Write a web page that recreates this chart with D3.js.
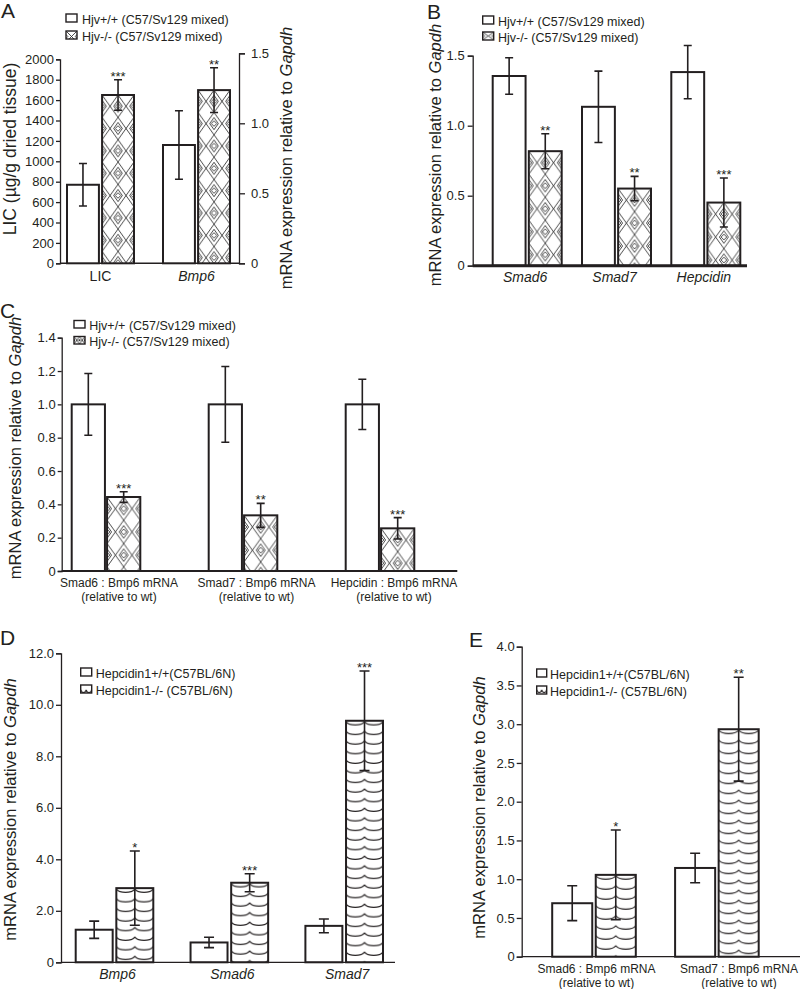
<!DOCTYPE html>
<html><head><meta charset="utf-8">
<script src="https://cdn.jsdelivr.net/npm/d3@7"></script>
<style>
body{margin:0;background:#fff}
svg{display:block}
text{font-family:"Liberation Sans",Arial,Helvetica,sans-serif;fill:#231f20}
</style>
</head><body>
<svg id="c" width="800" height="989"></svg>
<script>
// ================= DATA =================
const seriesNames = ["wt", "ko"];
const hjvLegend = ["Hjv+/+ (C57/Sv129 mixed)", "Hjv-/- (C57/Sv129 mixed)"];
const hepLegend = ["Hepcidin1+/+(C57BL/6N)", "Hepcidin1-/- (C57BL/6N)"];
const yTitleMain = "mRNA expression relative to ";
const yTitleItalic = "Gapdh";

// Panel A (LIC on left axis, Bmp6 on right axis)
const aCategories = ["LIC", "Bmp6"];
const aItalic = [false, true];
const aAxisSide = ["left", "right"];
const aWT = [770, 0.845];
const aWTErr = [208, 0.245];
const aKO = [1650, 1.237];
const aKOErr = [150, 0.16];
const aStars = ["***", "**"];
const aLeftTicks = [0, 200, 400, 600, 800, 1000, 1200, 1400, 1600, 1800, 2000];
const aRightTicks = [0, 0.5, 1.0, 1.5];
const aLeftTitle = "LIC (µg/g dried tissue)";

// Panel B
const bCategories = ["Smad6", "Smad7", "Hepcidin"];
const bWT = [1.355, 1.135, 1.383];
const bWTErr = [0.13, 0.255, 0.19];
const bKO = [0.818, 0.551, 0.451];
const bKOErr = [0.125, 0.087, 0.175];
const bStars = ["**", "**", "***"];
const bTicks = [0, 0.5, 1.0, 1.5];

// Panel C
const cCategories = ["Smad6 : Bmp6 mRNA", "Smad7 : Bmp6 mRNA", "Hepcidin : Bmp6 mRNA"];
const cSubLabel = "(relative to wt)";
const cWT = [1.0, 1.0, 1.0];
const cWTErr = [0.185, 0.227, 0.151];
const cKO = [0.444, 0.334, 0.256];
const cKOErr = [0.032, 0.072, 0.064];
const cStars = ["***", "**", "***"];
const cTicks = [0, 0.2, 0.4, 0.6, 0.8, 1.0, 1.2, 1.4];

// Panel D
const dCategories = ["Bmp6", "Smad6", "Smad7"];
const dWT = [1.265, 0.77, 1.415];
const dWTErr = [0.335, 0.2, 0.265];
const dKO = [2.88, 3.09, 9.38];
const dKOErr = [1.44, 0.35, 1.935];
const dStars = ["*", "***", "***"];
const dTicks = [0, 2, 4, 6, 8, 10, 12];

// Panel E
const eCategories = ["Smad6 : Bmp6 mRNA", "Smad7 : Bmp6 mRNA"];
const eWT = [0.69, 1.145];
const eWTErr = [0.225, 0.19];
const eKO = [1.056, 2.935];
const eKOErr = [0.578, 0.67];
const eStars = ["*", "**"];
const eTicks = [0, 0.5, 1.0, 1.5, 2.0, 2.5, 3.0, 3.5, 4.0];

// ================= DRAWING =================
const INK = "#231f20";
const svg = d3.select("#c");
const defs = svg.append("defs");
let pid = 0;

function diamond(cx, cy, rx, ry) {
  ry = ry === undefined ? rx : ry;
  return `M${cx - rx},${cy}L${cx},${cy - ry}L${cx + rx},${cy}L${cx},${cy + ry}Z`;
}
function hjvPattern(x0, y0, w, ratio, simple) {
  const id = "pat" + (pid++);
  const h = w * (ratio || 1.4);
  const p = defs.append("pattern").attr("id", id).attr("patternUnits", "userSpaceOnUse")
    .attr("x", x0).attr("y", y0).attr("width", w).attr("height", h);
  p.append("rect").attr("width", w).attr("height", h).attr("fill", "#fff");
  const r = w * 0.17;
  let d = `M0,0L${w},${h}M${w},0L0,${h}` + diamond(0, h / 2, r) + diamond(w, h / 2, r);
  if (!simple) d += diamond(0, h / 2, w * 0.27, h * 0.27) + diamond(w, h / 2, w * 0.27, h * 0.27);
  p.append("path").attr("d", d).attr("fill", "none").attr("stroke", "#2a2a2a").attr("stroke-width", 0.85);
  return `url(#${id})`;
}
function wavePattern(x0, y0, w, h) {
  const id = "pat" + (pid++);
  const p = defs.append("pattern").attr("id", id).attr("patternUnits", "userSpaceOnUse")
    .attr("x", x0).attr("y", y0).attr("width", w).attr("height", h);
  p.append("rect").attr("width", w).attr("height", h).attr("fill", "#fff");
  p.append("path").attr("d", `M0,0.8C${w * 0.15},${h * 0.55} ${w * 0.85},${h * 0.55} ${w},0.8`)
    .attr("fill", "none").attr("stroke", INK).attr("stroke-width", 1.2);
  return `url(#${id})`;
}

function yAxis(scale, ticks, fmt, x, side, tickSize, pad) {
  const ax = (side === "left" ? d3.axisLeft(scale) : d3.axisRight(scale))
    .tickValues(ticks).tickFormat(fmt).tickSizeOuter(0).tickSize(tickSize).tickPadding(pad);
  const a = svg.append("g").attr("transform", `translate(${x},0)`).call(ax)
    .attr("font-family", null).attr("font-size", 13);
  a.select(".domain").attr("stroke", INK).attr("stroke-width", 1.3);
  a.selectAll(".tick line").attr("stroke", INK).attr("stroke-width", 1.3);
  a.selectAll(".tick text").attr("fill", INK);
  return a;
}
const fmt1 = d => d === 0 ? "0" : d3.format(".1f")(d);

function yTitle(xc, yc, size) {
  const t = svg.append("text").attr("transform", `translate(${xc},${yc}) rotate(-90)`)
    .attr("text-anchor", "middle").attr("dy", "0.35em").style("font-size", size + "px");
  t.append("tspan").text(yTitleMain);
  t.append("tspan").style("font-style", "italic").text(yTitleItalic);
}
function panelLabel(t, x, y) {
  svg.append("text").attr("x", x).attr("y", y).style("font-size", "21px").text(t);
}
function baseline(x0, x1, y, w) {
  svg.append("line").attr("x1", x0).attr("x2", x1).attr("y1", y).attr("y2", y)
    .attr("stroke", INK).attr("stroke-width", w);
}
function legend(x, tops, w, h, labels, koFill, textX, fs) {
  labels.forEach((lab, i) => {
    svg.append("rect").attr("x", x).attr("y", tops[i]).attr("width", w).attr("height", h)
      .attr("fill", i === 0 ? "#fff" : koFill).attr("stroke", INK).attr("stroke-width", 1.4);
    svg.append("text").attr("x", textX).attr("y", tops[i] + 9.5).style("font-size", fs + "px").text(lab);
  });
}
function twoLineLabel(x, y, l1, l2, fs, gap) {
  const t = svg.append("text").attr("text-anchor", "middle").style("font-size", fs + "px");
  t.append("tspan").attr("x", x).attr("y", y).text(l1);
  t.append("tspan").attr("x", x).attr("dy", gap).text(l2);
}

// generic grouped bars
function bars(o) {
  o.cats.forEach((c, i) => {
    const y = o.yOf(i);
    seriesNames.forEach((s, j) => {
      const v = o.vals[j][i], e = o.errs[j][i];
      const bx = o.x(c) + o.x1(s), bw = o.x1.bandwidth();
      let fill = "#fff";
      if (j === 1) fill = o.kind === "hjv" ? hjvPattern(bx, y(v), bw / 2) : wavePattern(bx, y(v), bw / 2, o.waveH);
      svg.append("rect").attr("x", bx).attr("y", y(v)).attr("width", bw).attr("height", y(0) - y(v))
        .attr("fill", fill).attr("stroke", INK).attr("stroke-width", o.stroke);
      const cx = bx + bw / 2, ch = o.cap;
      svg.append("path")
        .attr("d", `M${cx},${y(v - e)}V${y(v + e)}M${cx - ch},${y(v + e)}h${2 * ch}M${cx - ch},${y(v - e)}h${2 * ch}`)
        .attr("stroke", INK).attr("stroke-width", 1.6).attr("fill", "none");
      if (j === 1) {
        svg.append("text").attr("x", cx).attr("y", y(v + e) + 1).attr("text-anchor", "middle")
          .style("font-size", "13px").text(o.stars[i]);
      }
    });
  });
}

// ---------- Panel A ----------
{
  const yL = d3.scaleLinear().domain([0, 2000]).range([263.3, 59.3]);
  const yR = d3.scaleLinear().domain([0, 1.5]).range([263.3, 53.3]);
  const x = d3.scalePoint().domain(aCategories).range([100.5, 196.5]);
  const x1 = d3.scaleBand().domain(seriesNames).range([-33.5, 33.5]).paddingInner(0.09);
  yAxis(yL, aLeftTicks, d3.format("d"), 60, "left", 4, 2);
  yAxis(yR, aRightTicks, fmt1, 239, "right", 6, 6);
  baseline(60, 239, yL(0), 1.6);
  bars({cats: aCategories, vals: [aWT, aKO], errs: [aWTErr, aKOErr], stars: aStars,
    yOf: i => aAxisSide[i] === "left" ? yL : yR, x, x1, kind: "hjv", stroke: 2, cap: 4});
  aCategories.forEach((c, i) => {
    svg.append("text").attr("x", x(c)).attr("y", 281).attr("text-anchor", "middle")
      .style("font-size", "14px").style("font-style", aItalic[i] ? "italic" : "normal").text(c);
  });
  svg.append("text").attr("transform", "translate(10,149) rotate(-90)").attr("text-anchor", "middle")
    .attr("dy", "0.35em").style("font-size", "17.5px").text(aLeftTitle);
  yTitle(286, 158, 16.5);
  legend(66, [14, 31], 11, 8, hjvLegend, hjvPattern(66, 31, 11, 1.0, true), 82, 12.5);
  panelLabel("A", 1, 18);
}

// ---------- Panel B ----------
{
  const y = d3.scaleLinear().domain([0, 1.5]).range([265.7, 55.7]);
  const x = d3.scalePoint().domain(bCategories).range([527.2, 705.8]);
  const x1 = d3.scaleBand().domain(seriesNames).range([-34.5, 34.5]).paddingInner(0.09);
  yAxis(y, bTicks, fmt1, 472.7, "left", 5, 3);
  bars({cats: bCategories, vals: [bWT, bKO], errs: [bWTErr, bKOErr], stars: bStars,
    yOf: () => y, x, x1, kind: "hjv", stroke: 2, cap: 4});
  baseline(472.7, 747, y(0), 3);
  bCategories.forEach(c => {
    svg.append("text").attr("x", x(c) - 2).attr("y", 281.5).attr("text-anchor", "middle")
      .style("font-size", "14px").style("font-style", "italic").text(c);
  });
  yTitle(435, 155, 16.5);
  legend(482.7, [16, 32], 11, 8, hjvLegend, hjvPattern(482.7, 32, 11, 0.73, true), 498, 12.5);
  panelLabel("B", 427, 19);
}

// ---------- Panel C ----------
{
  const y = d3.scaleLinear().domain([0, 1.4]).range([571, 337.7]);
  const x = d3.scalePoint().domain(cCategories).range([106, 380]);
  const x1 = d3.scaleBand().domain(seriesNames).range([-34.3, 34.3]).paddingInner(0.06);
  yAxis(y, cTicks, fmt1, 61.7, "left", 4, 2);
  bars({cats: cCategories, vals: [cWT, cKO], errs: [cWTErr, cKOErr], stars: cStars,
    yOf: () => y, x, x1, kind: "hjv", stroke: 2, cap: 4});
  baseline(61.7, 457.3, y(0), 2);
  const xl = d3.scalePoint().domain(cCategories).range([119, 394]);
  cCategories.forEach(c => twoLineLabel(xl(c), 587, c, cSubLabel, 12, 13.6));
  yTitle(15, 448, 16.5);
  legend(74, [320.5, 336.5], 11, 7.5, hjvLegend, hjvPattern(74, 336.5, 5.5, 1.36, true), 89.3, 12.5);
  panelLabel("C", 0, 318);
}

// ---------- Panel D ----------
{
  const y = d3.scaleLinear().domain([0, 12]).range([962.3, 653.3]);
  const x = d3.scalePoint().domain(dCategories).range([114.5, 344.2]);
  const x1 = d3.scaleBand().domain(seriesNames).range([-38.8, 38.8]).paddingInner(0.09);
  yAxis(y, dTicks, fmt1, 61, "left", 5, 2);
  bars({cats: dCategories, vals: [dWT, dKO], errs: [dWTErr, dKOErr], stars: dStars,
    yOf: () => y, x, x1, kind: "wave", waveH: 9.6, stroke: 2, cap: 5});
  baseline(61, 395, y(0), 1.3);
  dCategories.forEach(c => {
    svg.append("text").attr("x", x(c) + 3).attr("y", 979).attr("text-anchor", "middle")
      .style("font-size", "14px").style("font-style", "italic").text(c);
  });
  yTitle(10, 809.5, 16.5);
  legend(80.7, [668, 685], 11, 8, hepLegend, wavePattern(80.7, 689, 5.5, 8), 95.7, 12.5);
  panelLabel("D", 0, 645);
}

// ---------- Panel E ----------
{
  const y = d3.scaleLinear().domain([0, 4]).range([956.7, 646.7]);
  const x = d3.scalePoint().domain(eCategories).range([594, 716.9]);
  const x1 = d3.scaleBand().domain(seriesNames).range([-41.8, 41.8]).paddingInner(0.08);
  yAxis(y, eTicks, fmt1, 521.7, "left", 5, 2);
  bars({cats: eCategories, vals: [eWT, eKO], errs: [eWTErr, eKOErr], stars: eStars,
    yOf: () => y, x, x1, kind: "wave", waveH: 10, stroke: 2, cap: 5});
  baseline(521.7, 800, y(0), 1.3);
  const xl = d3.scalePoint().domain(eCategories).range([596.5, 739]);
  eCategories.forEach(c => twoLineLabel(xl(c), 973.4, c, cSubLabel, 12, 13.6));
  yTitle(479, 807.5, 16.5);
  legend(536.7, [669, 686], 10, 8, hepLegend, wavePattern(536.7, 689, 5, 8), 550, 12.5);
  panelLabel("E", 469, 647);
}
</script>
</body></html>
